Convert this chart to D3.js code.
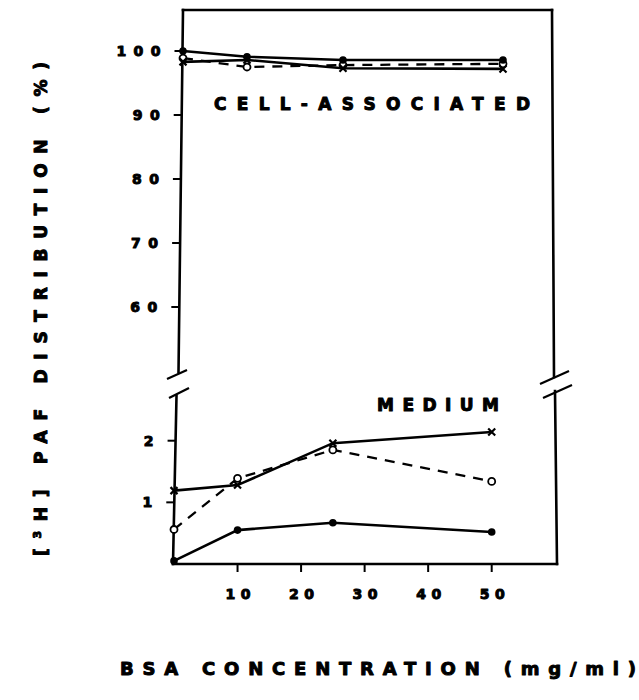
<!DOCTYPE html>
<html>
<head>
<meta charset="utf-8">
<script src="https://cdn.jsdelivr.net/npm/d3@7"></script>
<style>
  html, body { margin: 0; padding: 0; background: #fff; }
  svg { display: block; }
  text { font-family: "DejaVu Sans", "Liberation Sans", Arial, sans-serif; font-weight: bold; fill: #000; stroke: #000; stroke-width: 1; stroke-linejoin: round; }
</style>
</head>
<body>
<svg id="chart" width="639" height="700"></svg>
<script>
// ---- data ----
const bsa = [0, 10, 25, 50];                 // BSA concentration (mg/ml)
// Cell-associated (%)
const cellFilled = [100.0, 99.1, 98.6, 98.6];
const cellCross  = [98.3, 98.6, 97.3, 97.2];
const cellOpen   = [98.9, 97.5, 97.8, 98.0];
// Medium (%)
const medCross   = [1.19, 1.28, 1.96, 2.14];
const medOpen    = [0.56, 1.39, 1.85, 1.34];
const medFilled  = [0.05, 0.55, 0.67, 0.52];
const xTicks = [10, 20, 30, 40, 50];
const upperTicks = [60, 70, 80, 90, 100];
const lowerTicks = [1, 2];

const svg = d3.select("#chart");

// ---- scales ----
const xUp = d3.scaleLinear().domain([0, 50]).range([183, 503]);
const xLo = d3.scaleLinear().domain([0, 50]).range([174, 491.7]);
const yUp = d3.scaleLinear().domain([60, 100]).range([307, 51]);
const yLo = d3.scaleLinear().domain([0, 2]).range([564, 440.7]);

const ink = "#000";

// ---- frame ----
const frame = svg.append("g").attr("stroke", ink).attr("fill", "none").attr("stroke-width", 2.6).attr("stroke-linecap", "square");
frame.append("line").attr("x1", 183).attr("y1", 10).attr("x2", 552).attr("y2", 10);
frame.append("line").attr("x1", 183).attr("y1", 10).attr("x2", 178.5).attr("y2", 372);
frame.append("line").attr("x1", 176.5).attr("y1", 396).attr("x2", 173).attr("y2", 564);
frame.append("line").attr("x1", 552).attr("y1", 10).attr("x2", 554).attr("y2", 377);
frame.append("line").attr("x1", 555).attr("y1", 391).attr("x2", 557).attr("y2", 564);
frame.append("line").attr("x1", 173).attr("y1", 564).attr("x2", 557).attr("y2", 564);

// break marks
const brk = svg.append("g").attr("stroke", ink).attr("stroke-width", 2.2);
[[167, 379, 187, 370], [169, 398, 189, 388], [540, 384, 569, 371], [543, 398, 572, 385]]
  .forEach(d => brk.append("line").attr("x1", d[0]).attr("y1", d[1]).attr("x2", d[2]).attr("y2", d[3]));

// ---- x axis ticks ----
const gx = svg.append("g");
xTicks.forEach(t => {
  gx.append("line").attr("x1", xLo(t)).attr("x2", xLo(t)).attr("y1", 564).attr("y2", 572)
    .attr("stroke", ink).attr("stroke-width", 2);
  gx.append("text").attr("x", xLo(t) - 12).attr("y", 599)
    .attr("font-size", 14).attr("textLength", 25).attr("lengthAdjust", "spacing")
    .text(String(t));
});

// ---- y axis ticks upper ----
const gyU = svg.append("g");
upperTicks.forEach(t => {
  const y = yUp(t);
  const xa = 183 - (y - 10) * (4.5 / 362);
  gyU.append("line").attr("x1", xa - 8).attr("x2", xa).attr("y1", y).attr("y2", y)
    .attr("stroke", ink).attr("stroke-width", 2);
  const s = String(t);
  const w = s.length === 3 ? 44 : 27;
  gyU.append("text").attr("x", xa - 22 - w).attr("y", y + 5)
    .attr("font-size", 14).attr("textLength", w).attr("lengthAdjust", "spacing")
    .text(s);
});
// ---- y axis ticks lower ----
const gyL = svg.append("g");
lowerTicks.forEach(t => {
  const y = yLo(t);
  const xa = 176.5 - (y - 396) * (3.5 / 168);
  gyL.append("line").attr("x1", xa - 8).attr("x2", xa).attr("y1", y).attr("y2", y)
    .attr("stroke", ink).attr("stroke-width", 2);
  gyL.append("text").attr("x", xa - 22).attr("y", y + 5).attr("text-anchor", "end")
    .attr("font-size", 14).text(String(t));
});

// ---- series ----
function drawSeries(xs, ys, xScale, yScale, marker, dashed) {
  const pts = xs.map((x, i) => [xScale(x), yScale(ys[i])]);
  const line = d3.line();
  svg.append("path").attr("d", line(pts)).attr("fill", "none").attr("stroke", ink)
    .attr("stroke-width", dashed ? 2.3 : 2.6)
    .attr("stroke-dasharray", dashed ? "10,8" : null);
  const g = svg.append("g");
  pts.forEach(p => {
    if (marker === "filled") {
      g.append("circle").attr("cx", p[0]).attr("cy", p[1]).attr("r", 3.8).attr("fill", ink);
    } else if (marker === "open") {
      g.append("circle").attr("cx", p[0]).attr("cy", p[1]).attr("r", 3.5)
        .attr("fill", "#fff").attr("stroke", ink).attr("stroke-width", 1.8);
    } else {
      const s = 3.5;
      g.append("path").attr("d", `M${p[0]-s},${p[1]-s}L${p[0]+s},${p[1]+s}M${p[0]+s},${p[1]-s}L${p[0]-s},${p[1]+s}`)
        .attr("stroke", ink).attr("stroke-width", 2.2);
    }
  });
}

drawSeries(bsa, cellOpen, xUp, yUp, "open", true);
drawSeries(bsa, cellCross, xUp, yUp, "cross", false);
drawSeries(bsa, cellFilled, xUp, yUp, "filled", false);

drawSeries(bsa, medOpen, xLo, yLo, "open", true);
drawSeries(bsa, medCross, xLo, yLo, "cross", false);
drawSeries(bsa, medFilled, xLo, yLo, "filled", false);

// ---- annotations ----
svg.append("text").attr("x", 214).attr("y", 110).attr("font-size", 17)
  .attr("textLength", 316).attr("lengthAdjust", "spacing").text("CELL-ASSOCIATED");
svg.append("text").attr("x", 377).attr("y", 411).attr("font-size", 17)
  .attr("textLength", 122).attr("lengthAdjust", "spacing").text("MEDIUM");

// ---- axis titles ----
svg.append("text").attr("x", 120).attr("y", 675).attr("font-size", 18)
  .attr("textLength", 516).attr("lengthAdjust", "spacing").text("BSA CONCENTRATION (mg/ml)");

const yt = svg.append("text").attr("transform", "translate(47,556) rotate(-90)")
  .attr("font-size", 17).attr("textLength", 494).attr("lengthAdjust", "spacing");
yt.append("tspan").text("[");
yt.append("tspan").attr("font-size", 11).attr("dy", -6).text("3");
yt.append("tspan").attr("dy", 6).text("H]   PAF   DISTRIBUTION (%)");
</script>
</body>
</html>
